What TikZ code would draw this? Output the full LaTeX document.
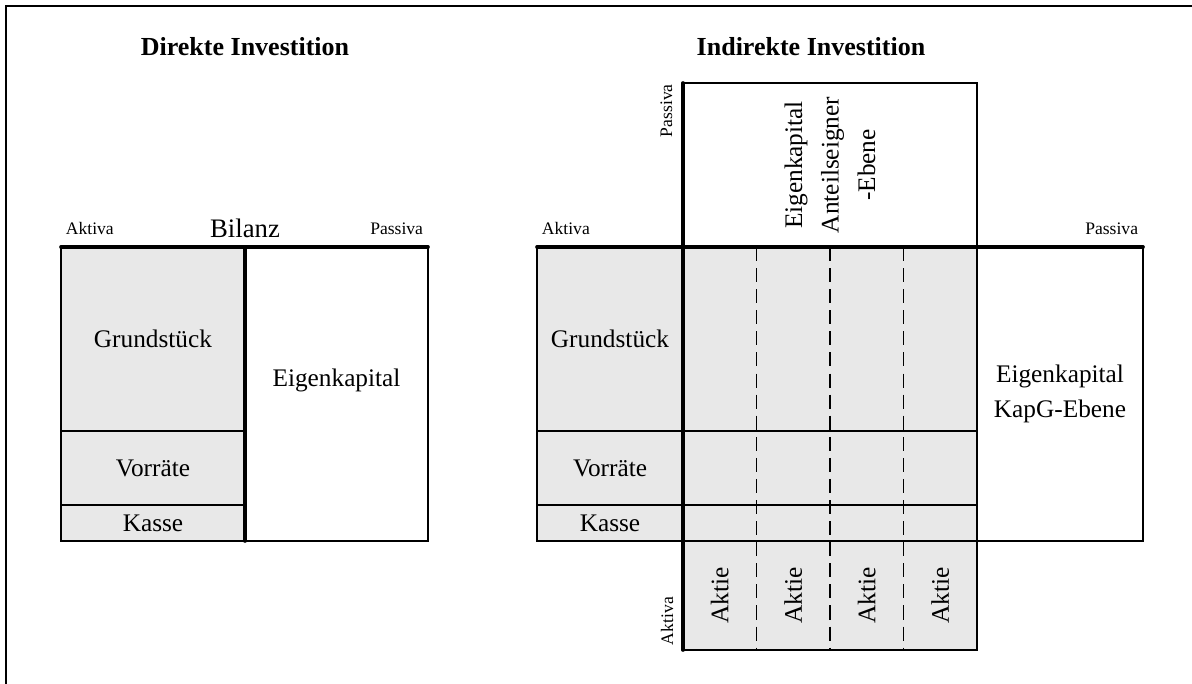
\documentclass[tikz,border=0pt]{standalone}
\usepackage{fontspec}
\setmainfont{Liberation Serif}
\usetikzlibrary{calc,positioning}

\begin{document}
\begin{tikzpicture}[
  asset/.style={draw,line width=0.8pt,fill=black!9,outer sep=0pt,inner sep=0pt},
  claim/.style={draw,line width=0.8pt,fill=white,outer sep=0pt,inner sep=0pt},
  axis/.style ={line width=2.6pt,line cap=round},
  divider/.style={line width=0.8pt,dash pattern=on 10pt off 5pt},
  frame/.style={line width=1.4pt},
  item/.style ={font=\fontsize{18}{25}\selectfont,align=center},
  head/.style ={font=\fontsize{18.5}{22}\selectfont\bfseries},
  side/.style ={font=\fontsize{12.5}{15}\selectfont},
]
\useasboundingbox (0,0) rectangle (29.8,17.1);

%% ============================================================
%% Left: direct investment, one balance sheet
%% ============================================================

\node[head] (titleA) at (6.125,15.925) {Direkte Investition};

% --- Aktiva column ---
\node[asset,minimum width=4.6cm,minimum height=4.6cm,anchor=north west]
      (grundA) at (1.525,10.925) {\fontsize{18}{25}\selectfont Grundstück};
\node[asset,item,minimum width=4.6cm,minimum height=1.85cm,below=0pt of grundA] (vorrA) {Vorräte};
\node[asset,item,minimum width=4.6cm,minimum height=0.9cm,below=0pt of vorrA]   (kasseA) {Kasse};

% --- Passiva column ---
\node[claim,minimum width=4.575cm,minimum height=7.35cm,anchor=north west]
      (ekA) at (grundA.north east) {};
\node[item] (ekAtext) at ($(ekA.center)+(0,0.35)$) {Eigenkapital};

% --- T-account lines and labels ---
\draw[axis] (grundA.north west) -- (ekA.north east);
\draw[axis] (ekA.north west) -- (ekA.south west);

\node[side,anchor=base west] (aktivaA)  at (1.525,11.225) {Aktiva};
\node[item,font=\fontsize{19}{22}\selectfont,anchor=base] (bilanz) at (6.125,11.15) {Bilanz};
\node[side,anchor=base east] (passivaA) at (10.7,11.225) {Passiva};

%% ============================================================
%% Right: indirect investment via KapG
%% ============================================================

\node[head] (titleB) at (20.275,15.925) {Indirekte Investition};

% --- Aktiva column of the KapG ---
\node[asset,item,minimum width=3.65cm,minimum height=4.6cm,anchor=north west]
      (grundB) at (13.425,10.925) {Grundstück};
\node[asset,item,minimum width=3.65cm,minimum height=1.85cm,below=0pt of grundB] (vorrB) {Vorräte};
\node[asset,item,minimum width=3.65cm,minimum height=0.9cm,below=0pt of vorrB]   (kasseB) {Kasse};

% --- shareholder level, crossing the sheet ---
\node[asset,minimum width=7.35cm,minimum height=4.6cm,right=0pt of grundB]  (midA) {};
\node[asset,minimum width=7.35cm,minimum height=1.85cm,right=0pt of vorrB]  (midB) {};
\node[asset,minimum width=7.35cm,minimum height=0.9cm,right=0pt of kasseB]  (midC) {};
\node[asset,minimum width=7.35cm,minimum height=2.725cm,below=0pt of midC] (aktien) {};
\node[claim,minimum width=7.35cm,minimum height=4.1cm,above=0pt of midA]   (ekT) {};

\foreach \i in {1,2,3}
  \draw[divider] ($(midA.north west)!{\i/4}!(midA.north east)$)
              -- ($(aktien.south west)!{\i/4}!(aktien.south east)$);

\foreach \i in {1,...,4}
  \node[item,rotate=90] (aktie\i) at ($(aktien.west)!{(2*\i-1)/8}!(aktien.east)$) {Aktie};

\node[item,rotate=90,font=\fontsize{18}{26}\selectfont] (ekTtext) at (ekT.center)
      {Eigenkapital\\Anteilseigner\\-Ebene};

% --- Passiva column of the KapG ---
\node[claim,item,minimum width=4.15cm,minimum height=7.35cm,anchor=north west]
      (ekK) at (midA.north east) {Eigenkapital\\KapG-Ebene};

% --- T-account lines and labels ---
\draw[axis] (grundB.north west) -- (ekK.north east);
\draw[axis] (ekT.north west) -- (aktien.south west);

\node[side,anchor=base west] (aktivaB)  at (13.425,11.225) {Aktiva};
\node[side,anchor=base east] (passivaB) at (28.575,11.225) {Passiva};
\node[side,rotate=90,anchor=base west] (passivaT) at (16.8,13.55) {Passiva};
\node[side,rotate=90,anchor=base west] (aktivaT)  at (16.825,0.85) {Aktiva};

% --- frame ---
\draw[frame] (0.15,0) -- (0.15,16.95) -- (29.8,16.95);

\end{tikzpicture}
\end{document}
